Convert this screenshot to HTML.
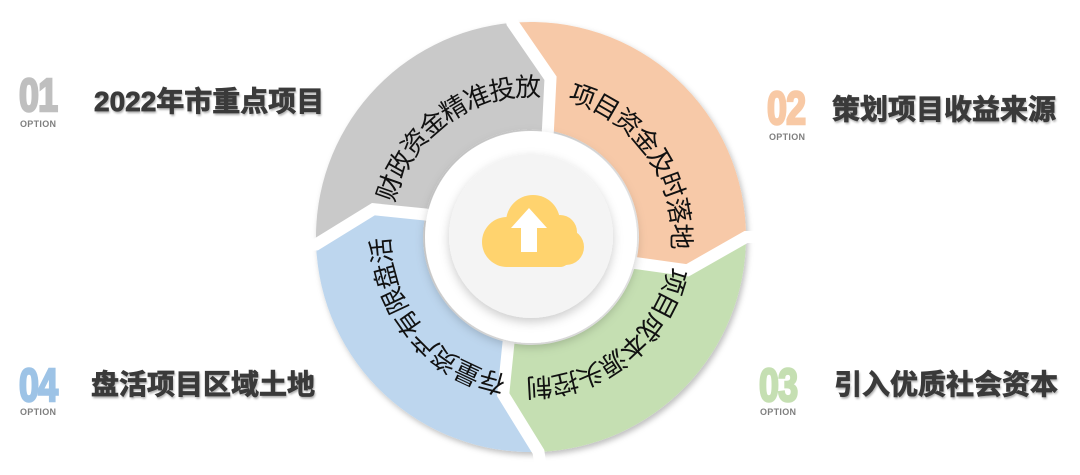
<!DOCTYPE html>
<html><head><meta charset="utf-8"><style>
html,body{margin:0;padding:0;background:#fff;width:1080px;height:475px;overflow:hidden;position:relative;font-family:"Liberation Sans","Noto Sans CJK SC",sans-serif}
.num{position:absolute;font-family:"Liberation Sans",sans-serif;font-weight:bold;font-size:46px;line-height:46px;transform:scaleX(0.78);transform-origin:left top;letter-spacing:-1px;-webkit-text-stroke:2.5px currentColor}
.opt{position:absolute;font-size:9px;color:#7f7f7f;font-family:"Liberation Sans",sans-serif;font-weight:bold;letter-spacing:0.3px}
.ttl{position:absolute;font-size:28px;font-weight:bold;color:#3a3a3a;font-family:"Liberation Sans","Noto Sans CJK SC",sans-serif;text-shadow:1px 2px 2px rgba(0,0,0,0.35);line-height:30px;-webkit-text-stroke:0.8px #3a3a3a}
</style></head><body>
<div class="num" style="left:19px;top:72px;color:#bfbfbf">01</div>
<div class="opt" style="left:20px;top:119px">OPTION</div>
<div class="ttl" style="left:94px;top:87px">2022年市重点项目</div>

<div class="num" style="left:767px;top:85px;color:#f8c9a5">02</div>
<div class="opt" style="left:769px;top:132px">OPTION</div>
<div class="ttl" style="left:832px;top:95px">策划项目收益来源</div>

<div class="num" style="left:759px;top:362px;color:#c5dfb2">03</div>
<div class="opt" style="left:760px;top:407px">OPTION</div>
<div class="ttl" style="left:834px;top:370px">引入优质社会资本</div>

<div class="num" style="left:19px;top:362px;color:#9dc3e6">04</div>
<div class="opt" style="left:20px;top:407px">OPTION</div>
<div class="ttl" style="left:91px;top:370px">盘活项目区域土地</div>

<svg width="1080" height="475" style="position:absolute;left:0;top:0" xmlns="http://www.w3.org/2000/svg">
<defs>
<filter id="sh" x="-20%" y="-20%" width="140%" height="140%"><feDropShadow dx="2" dy="3" stdDeviation="3" flood-color="#000" flood-opacity="0.25"/></filter>
<filter id="sh2" x="-30%" y="-30%" width="160%" height="160%"><feDropShadow dx="0" dy="4" stdDeviation="5" flood-color="#000" flood-opacity="0.2"/></filter>
<path id="tg" d="M386.8,278.3 A150,150 0 0 1 614.9,112.7"/>
<path id="to" d="M492.2,92.1 A150,150 0 0 1 653.9,323.0"/>
<path id="tgr" d="M673.7,190.6 A150,150 0 0 1 451.5,364.2"/>
<path id="tb" d="M582.3,378.0 A150,150 0 0 1 401.1,162"/>
</defs>
<g filter="url(#sh)">
<path fill="#c9c9c9" d="M316.1,244.5 A215,215 0 0 1 512.3,22.8 L550.5,78.2 L547.9,130.3 A108,108 0 0 0 425.4,214.5 L373.4,209.2 Z"/>
<path fill="#f7c9a8" d="M512.3,22.8 A215,215 0 0 1 746,237 L687.5,270.3 L635.8,263.1 A108,108 0 0 0 547.9,130.3 L550.5,78.2 Z"/>
<path fill="#c5dfb2" d="M746,237 A215,215 0 0 1 538.5,451.9 L503.2,394.6 L508.5,342.6 A108,108 0 0 0 635.8,263.1 L687.5,270.3 Z"/>
<path fill="#bdd6ee" d="M538.5,451.9 A215,215 0 0 1 316.1,244.5 L373.4,209.2 L425.4,214.5 A108,108 0 0 0 508.5,342.6 L503.2,394.6 Z"/>
</g>
<g fill="none" stroke="#fff" stroke-width="12" stroke-linejoin="miter">
<polyline points="510.3,14 512.3,22.8 550.5,78.2 547.9,130.3 547,140"/>
<polyline points="756,237 746,237 687.5,270.3 635.8,263.1 625,262"/>
<polyline points="540,462 538.5,451.9 503.2,394.6 508.5,342.6 510,332"/>
<polyline points="306,245 316.1,244.5 373.4,209.2 425.4,214.5 436,216"/>
</g>
<circle cx="531" cy="237" r="106" fill="#fff" filter="url(#sh2)"/>
<circle cx="531" cy="236" r="82" fill="#f4f4f4" filter="url(#sh2)"/>
<g fill="#ffd36e">
<circle cx="507" cy="242" r="25"/>
<circle cx="533" cy="222" r="27"/>
<circle cx="560" cy="232" r="17"/>
<circle cx="566" cy="247" r="18"/>
<rect x="500" y="240" width="70" height="27" rx="10"/>
</g>
<path fill="#fff" d="M529,208 L547,228 L537,228 L537,252 L521,252 L521,228 L511,228 Z"/>
<g font-family="'Liberation Sans','Noto Sans CJK SC',sans-serif" font-size="26" fill="#111" text-anchor="middle" dominant-baseline="central">
<text><textPath href="#tg" startOffset="50%">财政资金精准投放</textPath></text>
<text><textPath href="#to" startOffset="50%">项目资金及时落地</textPath></text>
<text><textPath href="#tgr" startOffset="50%">项目成本源头控制</textPath></text>
<text><textPath href="#tb" startOffset="50%">存量资产有限盘活</textPath></text>
</g>
</svg>
</body></html>
